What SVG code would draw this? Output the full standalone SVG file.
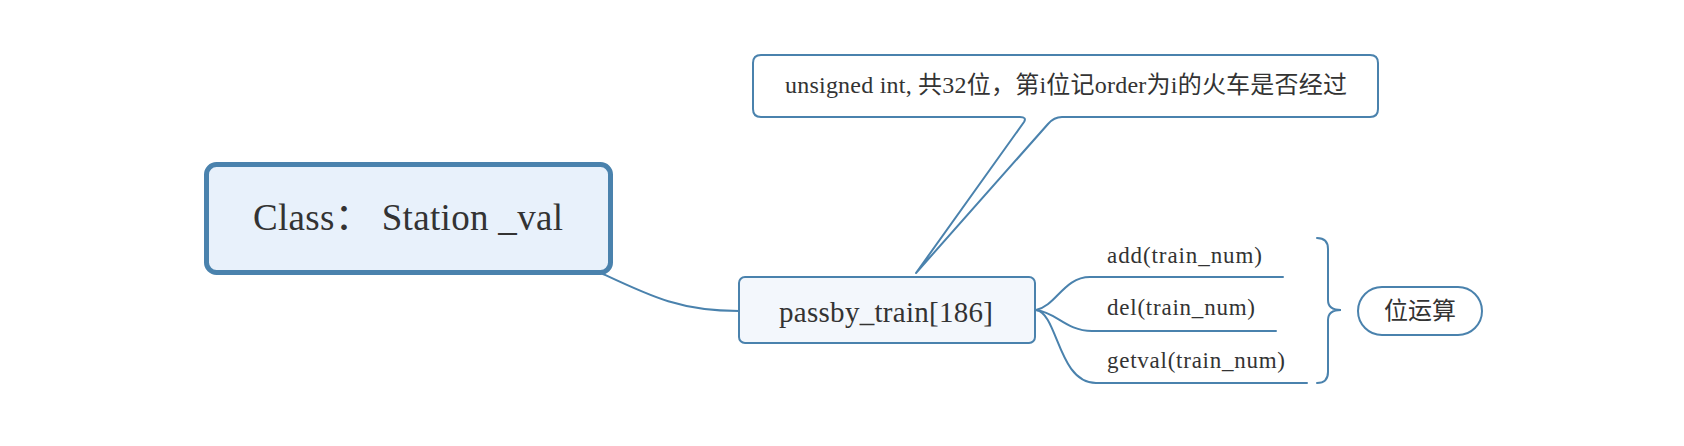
<svg xmlns="http://www.w3.org/2000/svg" width="1684" height="446" viewBox="0 0 1684 446">
  <style>
    .lat { font-family: "Liberation Serif", "Noto Sans CJK SC", serif; fill: #333333; }
    .cjk { font-family: "Noto Sans CJK SC", sans-serif; fill: #333333; }
    .edge { fill: none; stroke: #4a82ad; stroke-width: 2; stroke-linecap: round; }
  </style>
  <rect width="1684" height="446" fill="#ffffff"/>

  <g id="connectors">
    <path class="edge" d="M601,273 C650,296 680,311 739,311"/>
    <path class="edge" d="M1036,310 C1056,306 1064,277 1090,277 H1283"/>
    <path class="edge" d="M1036,310 C1056,312 1066,331 1092,331 H1276"/>
    <path class="edge" d="M1036,310 C1058,313 1058,383 1096,383 H1307"/>
    <path class="edge" d="M1317,238 Q1328,238 1328,249 V300 Q1328,310 1341,310 Q1328,310 1328,320 V372 Q1328,383 1317,383"/>
  </g>

  <g id="node-class">
    <rect x="206.5" y="164.5" width="404" height="108" rx="10" fill="#e8f1fb" stroke="#4a82ad" stroke-width="5"/>
    <text class="lat" x="253" y="230" font-size="37" textLength="310" lengthAdjust="spacing">Class： Station _val</text>
  </g>

  <g id="node-note">
    <path d="M761,55 H1370 Q1378,55 1378,63 V109 Q1378,117 1370,117 H1062 Q1054,117 1048,124 L916,273 L1024,122 Q1027,117 1020,117 H761 Q753,117 753,109 V63 Q753,55 761,55 Z" fill="#ffffff" stroke="#4a82ad" stroke-width="2" stroke-linejoin="round"/>
    <text class="lat" x="785" y="93" font-size="24" textLength="562" lengthAdjust="spacing">unsigned int, 共32位，第i位记order为i的火车是否经过</text>
  </g>

  <g id="node-passby">
    <rect x="739" y="277" width="296" height="66" rx="6" fill="#f3f7fc" stroke="#4a82ad" stroke-width="2"/>
    <text class="lat" x="779" y="322" font-size="29" textLength="214" lengthAdjust="spacing">passby_train[186]</text>
  </g>

  <g id="node-add">
    <text class="lat" x="1107" y="263" font-size="23" textLength="155" lengthAdjust="spacing">add(train_num)</text>
  </g>
  <g id="node-del">
    <text class="lat" x="1107" y="315" font-size="23" textLength="148" lengthAdjust="spacing">del(train_num)</text>
  </g>
  <g id="node-getval">
    <text class="lat" x="1107" y="368" font-size="23" textLength="178" lengthAdjust="spacing">getval(train_num)</text>
  </g>

  <g id="node-bitop">
    <rect x="1358" y="287" width="124" height="48" rx="24" fill="#ffffff" stroke="#4a82ad" stroke-width="2"/>
    <text class="cjk" x="1420" y="319" font-size="24" text-anchor="middle">位运算</text>
  </g>
</svg>
